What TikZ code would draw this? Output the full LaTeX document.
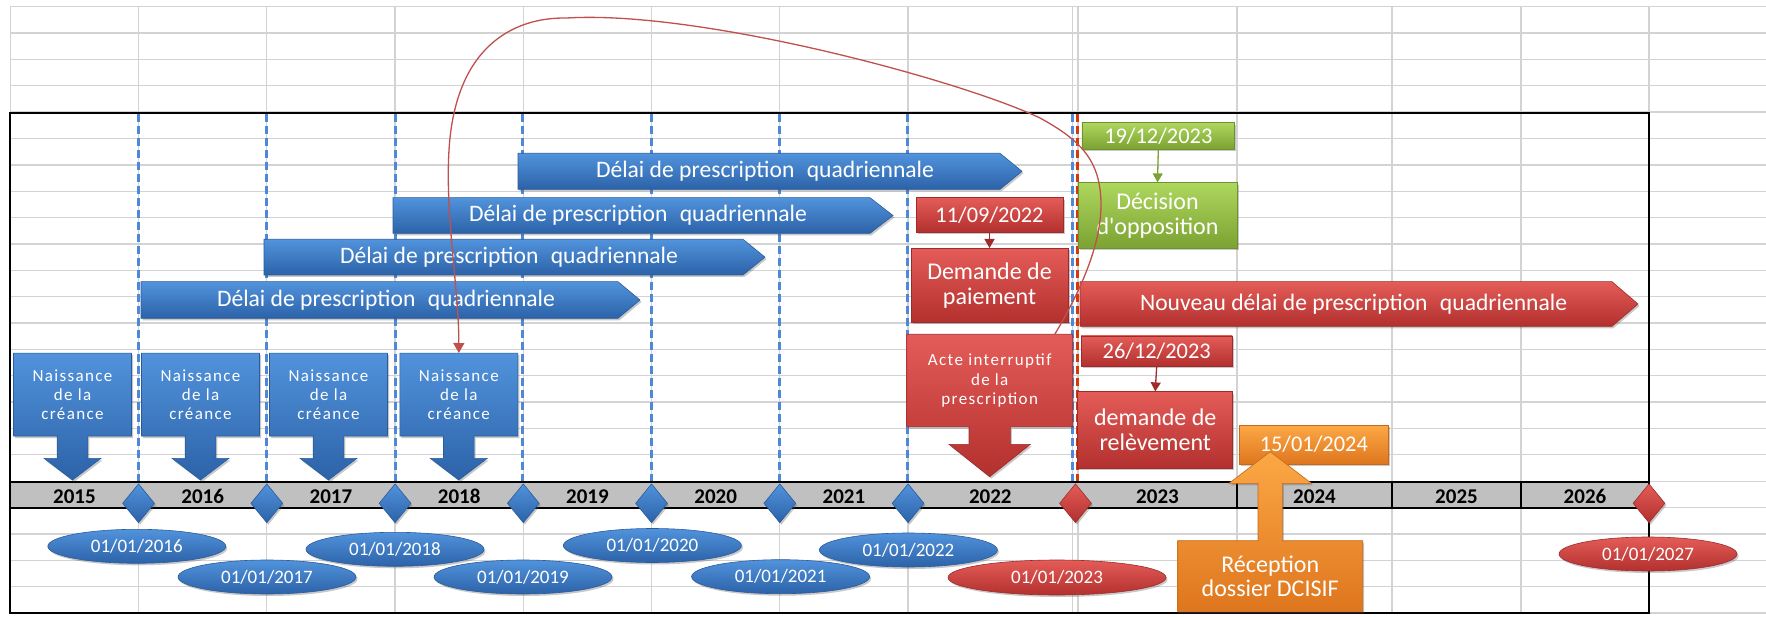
\documentclass[tikz,border=0pt]{standalone}
\usepackage{fontspec}
\setmainfont{Carlito}
\usetikzlibrary{calc,shapes.geometric,arrows.meta,shadows}

\definecolor{gridgray}{HTML}{D3D3D3}
\definecolor{bandgray}{HTML}{C0C0C0}
\definecolor{dashblue}{HTML}{4F88D8}
\definecolor{dashred}{HTML}{D23A0C}
\definecolor{blueT}{HTML}{5193DC}
\definecolor{blueB}{HTML}{2C62A8}
\definecolor{blueE}{HTML}{2A5C9C}
\definecolor{redT}{HTML}{E45C58}
\definecolor{redB}{HTML}{B2302E}
\definecolor{redE}{HTML}{9E2B29}
\definecolor{greenT}{HTML}{AED75E}
\definecolor{greenB}{HTML}{7BA232}
\definecolor{greenE}{HTML}{6F9230}
\definecolor{orangeT}{HTML}{FCA845}
\definecolor{orangeB}{HTML}{DE761E}
\definecolor{orangeE}{HTML}{C8681A}
\definecolor{curvered}{HTML}{C0504D}

% text sizes (1pt = 1px of the layout)
\newcommand\txtbar{\fontsize{23.6}{27}\selectfont}
\newcommand\txtdate{\fontsize{22.4}{25}\selectfont}
\newcommand\txtbig{\fontsize{24}{24.5}\selectfont}
\newcommand\txtspaced{\fontsize{17}{19.3}\selectfont\addfontfeature{LetterSpace=8}}
\newcommand\txtyear{\fontsize{21}{22}\selectfont\bfseries}
\newcommand\txtell{\fontsize{19}{21}\selectfont}

% pentagon bar: style, x start, body end, tip, top, bottom
\newcommand\mkbar[6]{\path[#1] (#2,#5) -- (#3,#5) -- (#4,{(#5+#6)/2}) -- (#3,#6) -- (#2,#6) -- cycle;}
% box with arrow: style, cx, box edge far, box edge near, half width,
% shaft half width, head half width, head base, tip
\newcommand\mkcallout[9]{\path[#1] ({#2-#5},#3) -- ({#2+#5},#3) -- ({#2+#5},#4)
  -- ({#2+#6},#4) -- ({#2+#6},#8) -- ({#2+#7},#8) -- (#2,#9) -- ({#2-#7},#8)
  -- ({#2-#6},#8) -- ({#2-#6},#4) -- ({#2-#5},#4) -- cycle;}

\tikzset{
  grid/.style={draw=gridgray, line width=1.3pt},
  frame/.style={draw=black, line width=2pt},
  bluedash/.style={draw=dashblue, line width=3pt, dash pattern=on 8.5pt off 3.5pt},
  reddash/.style={draw=dashred, line width=3pt, dash pattern=on 8.5pt off 3.5pt},
  shadowed/.style={drop shadow={opacity=0.3, shadow xshift=1.5pt, shadow yshift=-2pt, fill=black!70}},
  bluefill/.style={top color=blueT, bottom color=blueB, draw=blueE, line width=0.6pt, shadowed},
  redfill/.style={top color=redT, bottom color=redB, draw=redE, line width=0.6pt, shadowed},
  greenfill/.style={top color=greenT, bottom color=greenB, draw=greenE, line width=0.6pt, shadowed},
  orangefill/.style={top color=orangeT, bottom color=orangeB, draw=orangeE, line width=0.6pt, shadowed},
  txt/.style={text=white, align=center, inner sep=0pt},
  bartxt/.style={txt, font=\txtbar},
  boxnode/.style={txt, rectangle, font=\txtdate},
  ell/.style={ellipse, inner sep=0pt, minimum width=178pt, minimum height=34pt, text=white, font=\txtell},
  diam/.style={diamond, inner sep=0pt, minimum width=32pt, minimum height=39pt},
  year/.style={inner sep=0pt, font=\txtyear, text=black},
  smallarrow/.style={line width=1.3pt, -{Triangle[length=9pt,width=10pt]}},
}

\begin{document}
\begin{tikzpicture}[x=1pt,y=-1pt]
\useasboundingbox (0,0) rectangle (1766,617);
\fill[white] (0,0) rectangle (1766,617);

% sheet grid
\foreach \k in {0,...,23} \draw[grid] (10.3,{6.7+26.36*\k}) -- (1766,{6.7+26.36*\k});
\foreach \x in {10.3,138.55,266.8,395.05,523.3,651.55,779.8,908.05,1072.5,1078,1237,1392,1521,1649}
  \draw[grid] (\x,6.7) -- (\x,613.3);

% year band
\fill[bandgray] (10.3,482.3) rectangle (1649,507.7);
\draw[frame] (10.3,482.3) -- (1649,482.3) (10.3,507.7) -- (1649,507.7);
\foreach \x in {1237,1392,1521} \draw[frame] (\x,482.3) -- (\x,507.7);

% frame
\draw[frame] (10.3,112.7) rectangle (1649,613.3);

% year boundaries
\foreach \x in {138.55,266.8,395.05,522.5,651.55,779.8,907.8,1072.5}
  \draw[bluedash] (\x,113.7) -- (\x,481.3);
\draw[reddash] (1077.5,113.7) -- (1077.5,481.3);

% year labels
\foreach \x/\yr in {74.4/2015,202.7/2016,330.9/2017,459.2/2018,587.4/2019,715.7/2020,843.9/2021,990.3/2022,1157.5/2023,1314.5/2024,1456.5/2025,1585/2026}
  \node[year] (y\yr) at (\x,496.5) {\yr};

% four-year periods
\mkbar{bluefill}{518}{1000}{1022}{153.3}{189.3}
\node[bartxt] (delai2019) at (765,171.3) {Délai de prescription\hspace{0.3em} quadriennale};
\mkbar{bluefill}{393}{870}{893}{197.7}{233.3}
\node[bartxt] (delai2018) at (638,215.5) {Délai de prescription\hspace{0.3em} quadriennale};
\mkbar{bluefill}{264}{743}{765}{239.3}{275}
\node[bartxt] (delai2017) at (509,257.2) {Délai de prescription\hspace{0.3em} quadriennale};
\mkbar{bluefill}{141}{618}{640}{281.7}{318.3}
\node[bartxt] (delai2016) at (386,300) {Délai de prescription\hspace{0.3em} quadriennale};
\mkbar{redfill}{1080}{1612}{1638}{281.7}{326.3}
\node[bartxt] (nouveau) at (1353.6,304) {Nouveau délai de prescription\hspace{0.3em} quadriennale};

% birth of the claims
\foreach \cx/\nm in {72.5/n1,200.5/n2,328.5/n3,458.8/n4}{
  \mkcallout{bluefill}{\cx}{353.2}{436}{59}{15.3}{28.5}{458.3}{480}
  \node[txt, font=\txtspaced, minimum width=118pt, minimum height=82.8pt] (\nm) at (\cx,394.6) {Naissance\\de la\\créance};
}

% interruption
\mkcallout{redfill}{989.7}{334.3}{426.7}{83}{20.7}{40.7}{444.3}{476.7}
\node[txt, font=\txtspaced, minimum width=166pt, minimum height=92.4pt] (acte) at (989.7,380.5) {Acte interruptif\\de la\\prescription};

\node[boxnode, redfill, minimum width=147pt, minimum height=34.6pt] (d1109) at (989.5,215) {11/09/2022};
\node[boxnode, redfill, font=\txtbig, minimum width=157pt, minimum height=74.2pt] (dempai) at (989.5,285.4) {Demande de\\paiement};
\draw[smallarrow, draw=redE, fill=redE] (d1109.south) -- (dempai.north);

% opposition
\node[boxnode, greenfill, minimum width=152.7pt, minimum height=26.3pt] (d1912) at (1158.3,135.9) {19/12/2023};
\node[boxnode, greenfill, font=\txtbig, minimum width=159pt, minimum height=65.6pt] (decis) at (1157.5,215.5) {Décision\\d\textquotesingle opposition};
\draw[smallarrow, draw=greenB, fill=greenB] (d1912.south) -- (decis.north);

% relief request
\node[boxnode, redfill, minimum width=151.3pt, minimum height=30pt] (d2612) at (1156.7,351) {26/12/2023};
\node[boxnode, redfill, font=\txtbig, minimum width=155pt, minimum height=76.6pt] (relev) at (1155.2,430) {demande de\\relèvement};
\draw[smallarrow, draw=redE, fill=redE] (d2612.south) -- (relev.north);

% file reception
\node[boxnode, orangefill, minimum width=149pt, minimum height=39pt] (d1501) at (1313.8,444.6) {15/01/2024};
\mkcallout{orangefill}{1270.2}{611.7}{540.7}{92.5}{12.2}{41.2}{483.3}{451.7}
\node[txt, font=\txtbig, minimum width=185pt, minimum height=71pt] (recep) at (1270.2,576.2) {Réception\\dossier DCISIF};

% 1 January markers
\foreach \x/\nm in {138.55/m2016,266.8/m2017,395.05/m2018,523.3/m2019,651.55/m2020,779.8/m2021,908.05/m2022}
  \node[diam, bluefill] (\nm) at (\x,503.3) {};
\node[diam, redfill] (m2023) at (1075.5,503.3) {};
\node[diam, redfill] (m2027) at (1649,503.3) {};

\node[ell, bluefill] (e2016) at (136.8,546.3) {01/01/2016};
\node[ell, bluefill] (e2017) at (267,577) {01/01/2017};
\node[ell, bluefill] (e2018) at (395,549.3) {01/01/2018};
\node[ell, bluefill] (e2019) at (523,577) {01/01/2019};
\node[ell, bluefill] (e2020) at (652.4,545.5) {01/01/2020};
\node[ell, bluefill] (e2021) at (780.6,576.7) {01/01/2021};
\node[ell, bluefill] (e2022) at (908.4,550) {01/01/2022};
\node[ell, redfill, minimum width=218pt, minimum height=35pt] (e2023) at (1057,577.5) {01/01/2023};
\node[ell, redfill] (e2027) at (1648,554) {01/01/2027};

% link from the interruption back to the claim
\draw[curvered, line width=1.3pt, -{Triangle[length=10pt,width=11pt]}]
  ($(acte.north east)+(-18,0)$) .. controls (1075,300) and (1101,250) .. (1101,205)
  .. controls (1101,160) and (1080,140) .. (1040,118)
  .. controls (960,80) and (700,10) .. (567,18)
  .. controls (510,17) and (455,50) .. (449,150)
  .. controls (445,216) and (459,290) .. (n4.north);
\end{tikzpicture}
\end{document}
